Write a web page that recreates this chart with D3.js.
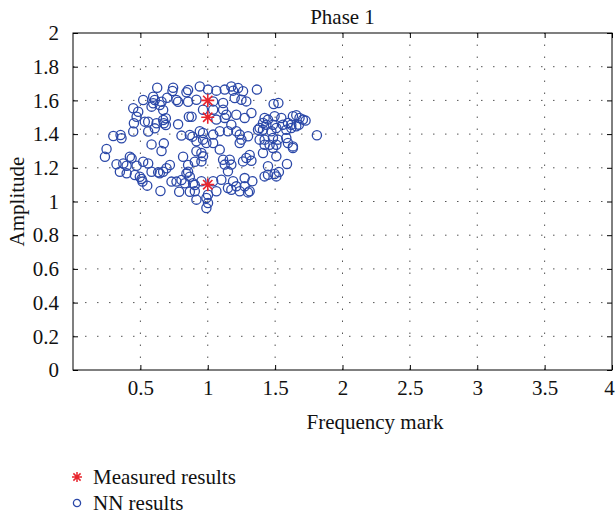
<!DOCTYPE html>
<html>
<head>
<meta charset="utf-8">
<script src="https://cdn.jsdelivr.net/npm/d3@7"></script>
<style>
  body { margin: 0; background: #fff; }
  text { font-family: "Liberation Serif", "DejaVu Serif", serif; fill: #111; }
</style>
</head>
<body>
<div id="chart"></div>
<script>
// tick values
const xTicks = [0.5, 1, 1.5, 2, 2.5, 3, 3.5, 4];
const yTicks = [0, 0.2, 0.4, 0.6, 0.8, 1, 1.2, 1.4, 1.6, 1.8, 2];

// measured results (red stars)
const measuredX = [1, 1, 1];
const measuredY = [1.6, 1.5, 1.1];

// NN results (blue circles), [frequency mark, amplitude]
const nnPoints = [
  [0.625,1.675],[0.743,1.675],[0.738,1.656],[0.854,1.662],[0.842,1.648],[0.699,1.616],[0.521,1.602],
  [0.595,1.622],[0.607,1.602],[0.595,1.583],[0.583,1.563],[0.644,1.573],[0.657,1.592],[0.768,1.602],
  [0.780,1.592],[0.854,1.592],[0.447,1.553],[0.484,1.533],[0.472,1.503],[0.86,1.503],[0.88,1.503],
  [0.669,1.543],[0.533,1.474],[0.558,1.474],[0.620,1.464],[0.669,1.484],[0.689,1.494],[0.674,1.464],
  [0.689,1.454],[0.780,1.458],[0.452,1.464],[0.447,1.415],[0.558,1.415],[0.607,1.434],[0.299,1.389],
  [0.353,1.395],[0.360,1.375],[0.805,1.391],[0.867,1.395],[0.886,1.385],[0.583,1.339],[0.674,1.345],
  [0.657,1.300],[0.249,1.312],[0.237,1.266],[0.422,1.266],[0.435,1.256],[0.521,1.236],[0.558,1.226],
  [0.719,1.217],[0.817,1.266],[0.854,1.217],[0.904,1.236],[0.323,1.221],[0.373,1.226],[0.398,1.212],
  [0.472,1.212],[0.348,1.177],[0.398,1.167],[0.459,1.157],[0.496,1.147],[0.509,1.134],[0.516,1.118],
  [0.551,1.094],[0.583,1.177],[0.632,1.173],[0.644,1.167],[0.669,1.177],[0.694,1.197],[0.731,1.118],
  [0.768,1.118],[0.805,1.128],[0.842,1.167],[0.854,1.177],[0.867,1.147],[0.830,1.108],[0.891,1.108],
  [0.904,1.098],[0.649,1.062],[0.788,1.058],[0.867,1.058],
  [0.941,1.683],[1.002,1.664],[1.064,1.658],[1.126,1.664],[1.175,1.683],[1.188,1.658],[1.225,1.674],
  [1.262,1.654],[0.916,1.604],[1.04,1.594],[1.114,1.585],[1.2,1.614],[1.25,1.604],[1.286,1.594],
  [0.965,1.545],[1.04,1.545],[1.114,1.545],[1.138,1.515],[1.126,1.496],[1.212,1.515],[1.274,1.496],
  [1.064,1.486],[1.175,1.456],[0.941,1.417],[0.965,1.407],[1.04,1.397],[1.089,1.417],[1.15,1.417],
  [1.212,1.417],[1.237,1.397],[1.25,1.367],[1.237,1.347],[1.299,1.387],[0.965,1.367],[0.99,1.347],
  [1.04,1.347],[0.916,1.357],
  [0.916,1.298],[0.953,1.288],[0.965,1.268],[0.953,1.238],[1.089,1.308],[1.114,1.248],[1.126,1.219],
  [1.163,1.248],[1.175,1.219],[1.15,1.179],[1.262,1.238],[1.286,1.258],[1.188,1.12],[1.15,1.08],
  [1.175,1.07],[1.212,1.09],[1.237,1.061],[1.274,1.09],[1.274,1.139],[0.953,1.12],[1.04,1.12],
  [0.904,1.061],[1.002,1.04],[0.99,1.021],[1.002,0.991],[0.99,0.961],[1.064,1.061],[0.916,1.011],
  [1.101,1.129],
  [1.365,1.664],[1.489,1.579],[1.524,1.585],[1.324,1.525],[1.422,1.496],[1.447,1.486],[1.496,1.506],
  [1.546,1.496],[1.632,1.506],[1.657,1.512],[1.681,1.496],[1.706,1.486],[1.726,1.48],[1.41,1.466],
  [1.435,1.456],[1.484,1.456],[1.558,1.456],[1.595,1.466],[1.62,1.456],[1.657,1.446],[1.676,1.456],
  [1.385,1.436],[1.373,1.426],[1.41,1.426],[1.472,1.417],[1.509,1.436],[1.583,1.426],[1.62,1.436],
  [1.81,1.393],[1.422,1.367],[1.385,1.367],[1.484,1.377],[1.521,1.367],[1.583,1.377],[1.422,1.337],
  [1.459,1.337],[1.509,1.337],[1.595,1.347],[1.632,1.327],[1.41,1.288],[1.509,1.268],[1.324,1.242],
  [1.447,1.209],[1.588,1.223],[1.422,1.149],[1.447,1.159],[1.509,1.149],[1.528,1.175],[1.496,1.163],
  [1.331,1.12],[1.311,1.061],[1.632,1.318],[1.484,1.318],[1.311,1.276],[1.299,1.054]
];

const width = 616, height = 516;
const plot = { left: 73, right: 612, top: 33, bottom: 370 };
const fontSize = '21px';

const svg = d3.select('#chart').append('svg')
  .attr('width', width)
  .attr('height', height);

const x = d3.scaleLinear().domain([0, 4]).range([plot.left, plot.right]);
const y = d3.scaleLinear().domain([0, 2]).range([plot.bottom, plot.top]);

// dotted grid
const grid = svg.append('g')
  .attr('stroke', '#555')
  .attr('stroke-width', 1)
  .attr('stroke-dasharray', '1.5,10.5');

grid.selectAll('.gx')
  .data(xTicks.filter(d => d < 4))
  .enter().append('line')
  .attr('x1', d => x(d)).attr('x2', d => x(d))
  .attr('y1', plot.bottom).attr('y2', plot.top);

grid.selectAll('.gy')
  .data(yTicks.filter(d => d > 0 && d < 2))
  .enter().append('line')
  .attr('x1', plot.left).attr('x2', plot.right)
  .attr('y1', d => y(d)).attr('y2', d => y(d));

// axes, ticks pointing inward
const xAxis = svg.append('g')
  .attr('transform', `translate(0,${plot.bottom})`)
  .call(d3.axisBottom(x).tickValues(xTicks).tickSize(-5).tickSizeOuter(0).tickPadding(10).tickFormat(d3.format('')));

const xAxisTop = svg.append('g')
  .attr('transform', `translate(0,${plot.top})`)
  .call(d3.axisTop(x).tickValues(xTicks).tickSize(-5).tickSizeOuter(0).tickFormat(''));

const yAxis = svg.append('g')
  .attr('transform', `translate(${plot.left},0)`)
  .call(d3.axisLeft(y).tickValues(yTicks).tickSize(-5).tickSizeOuter(0).tickPadding(14).tickFormat(d3.format('')));

const yAxisRight = svg.append('g')
  .attr('transform', `translate(${plot.right},0)`)
  .call(d3.axisRight(y).tickValues(yTicks).tickSize(-5).tickSizeOuter(0).tickFormat(''));

[xAxis, xAxisTop, yAxis, yAxisRight].forEach(a => {
  a.select('.domain').remove();
  a.selectAll('.tick line').attr('stroke', '#000');
  a.selectAll('.tick text')
    .style('font-family', '"Liberation Serif", serif')
    .style('font-size', fontSize)
    .attr('fill', '#111');
});

// keep the last x label inside the page
xAxis.selectAll('.tick text')
  .filter(d => d === 4)
  .attr('dx', -3);

// frame
svg.append('rect')
  .attr('x', plot.left)
  .attr('y', plot.top)
  .attr('width', plot.right - plot.left)
  .attr('height', plot.bottom - plot.top)
  .attr('fill', 'none')
  .attr('stroke', '#000')
  .attr('stroke-width', 1);

// NN results
svg.append('g')
  .selectAll('circle')
  .data(nnPoints)
  .enter().append('circle')
  .attr('cx', d => x(d[0]))
  .attr('cy', d => y(d[1]))
  .attr('r', 4.6)
  .attr('fill', 'none')
  .attr('stroke', '#2b48a8')
  .attr('stroke-width', 1.3);

// asterisk marker path
const star = (s) => {
  const d = s * 0.72;
  return `M${-s},0L${s},0M0,${-s}L0,${s}M${-d},${-d}L${d},${d}M${-d},${d}L${d},${-d}`;
};

const measured = measuredX.map((v, i) => [v, measuredY[i]]);

svg.append('g')
  .selectAll('path')
  .data(measured)
  .enter().append('path')
  .attr('transform', d => `translate(${x(d[0])},${y(d[1])})`)
  .attr('d', star(6.5))
  .attr('stroke', '#e8262e')
  .attr('stroke-width', 1.6)
  .attr('fill', 'none');

// title and labels
svg.append('text')
  .attr('x', (plot.left + plot.right) / 2)
  .attr('y', 24)
  .attr('text-anchor', 'middle')
  .style('font-size', fontSize)
  .text('Phase 1');

svg.append('text')
  .attr('x', 375)
  .attr('y', 429)
  .attr('text-anchor', 'middle')
  .style('font-size', fontSize)
  .text('Frequency mark');

svg.append('text')
  .attr('transform', `translate(24,${(plot.top + plot.bottom) / 2}) rotate(-90)`)
  .attr('text-anchor', 'middle')
  .style('font-size', fontSize)
  .text('Amplitude');

// legend
const legend = svg.append('g').attr('transform', 'translate(77,477)');

legend.append('path')
  .attr('d', star(5))
  .attr('stroke', '#e8262e')
  .attr('stroke-width', 1.5)
  .attr('fill', 'none');

legend.append('text')
  .attr('x', 16)
  .attr('y', 7)
  .style('font-size', fontSize)
  .text('Measured results');

legend.append('circle')
  .attr('cx', 0)
  .attr('cy', 26)
  .attr('r', 3.6)
  .attr('fill', 'none')
  .attr('stroke', '#2b48a8')
  .attr('stroke-width', 1.3);

legend.append('text')
  .attr('x', 16)
  .attr('y', 33)
  .style('font-size', fontSize)
  .text('NN results');
</script>
</body>
</html>
